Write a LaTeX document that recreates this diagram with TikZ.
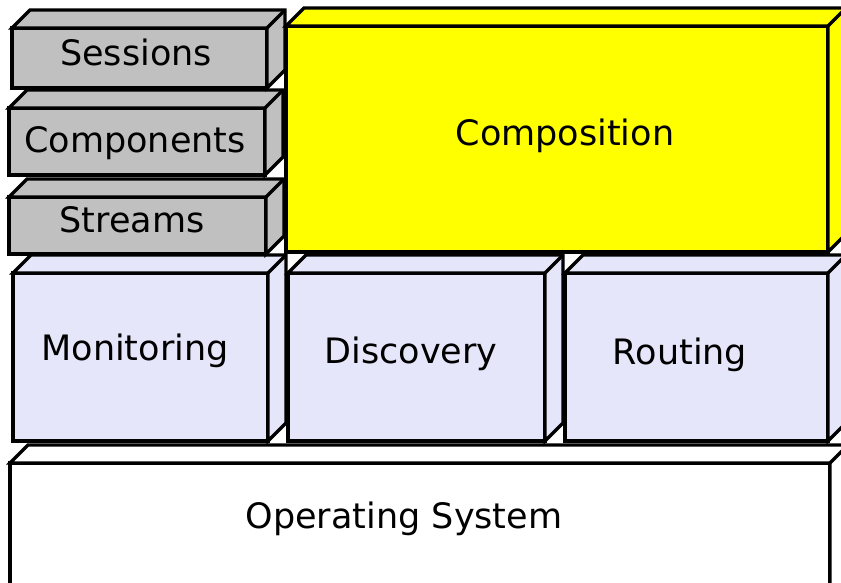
\documentclass[tikz,border=0pt]{standalone}
\usepackage{fontspec}
\setmainfont{DejaVu Sans}
\definecolor{slabgray}{HTML}{C0C0C0}
\definecolor{slablav}{HTML}{E6E6FA}
\definecolor{slabyellow}{HTML}{FFFF00}
\tikzset{
  face/.style={draw=black, line width=3.3pt, line join=miter},
  frontface/.style={face, rectangle, inner sep=0pt, outer sep=0pt, anchor=north west},
  layertext/.style={font=\fontsize{35}{42}\selectfont, anchor=base, inner sep=0pt},
}
% depth of the top and side faces
\def\dep{18}
% \slab{name}{fill}{x1}{y1}{x2}{y2}: a box whose front face spans (x1,y1)-(x2,y2)
\newcommand\slab[6]{%
  \node[frontface, fill=#2, minimum width={(#5-#3)*1pt}, minimum height={(#6-#4)*1pt}] (#1) at (#3,#4) {};
  \draw[face, fill=#2] (#1.north west) -- ++(\dep,-\dep)
    -| ([shift={(\dep,-\dep)}]#1.south east) -- (#1.south east)
    -- (#1.north east) -- cycle;
  \draw[face] (#1.north east) -- ++(\dep,-\dep);
}
\begin{document}
\begin{tikzpicture}[x=1pt, y=-1pt]
  \useasboundingbox (0,0) rectangle (841,582);
  \clip (0,0) rectangle (841,582);
  \fill[white] (0,0) rectangle (841,582);

  % base layer
  \slab{os}{white}{10}{463}{830}{620}
  % middle layer
  \slab{mon}{slablav}{13}{273}{268}{441}
  \slab{disc}{slablav}{288}{273}{545}{441}
  \slab{rout}{slablav}{565}{273}{828}{441}
  % upper layer
  \slab{streams}{slabgray}{9}{197}{266}{254}
  \slab{comps}{slabgray}{9}{108}{265}{175}
  \slab{sess}{slabgray}{12}{28}{267}{88}
  \slab{compo}{slabyellow}{286}{26}{828}{252}

  % labels
  \node[layertext] (tsess) at (136,65) {Sessions};
  \node[layertext] (tcomps) at (135,152) {Components};
  \node[layertext] (tstreams) at (132,232) {Streams};
  \node[layertext] (tcompo) at (565,145) {Composition};
  \node[layertext] (tmon) at (135,360) {Monitoring};
  \node[layertext] (tdisc) at (411,363) {Discovery};
  \node[layertext] (trout) at (680,364) {Routing};
  \node[layertext] (tos) at (404,528) {Operating System};
\end{tikzpicture}
\end{document}
